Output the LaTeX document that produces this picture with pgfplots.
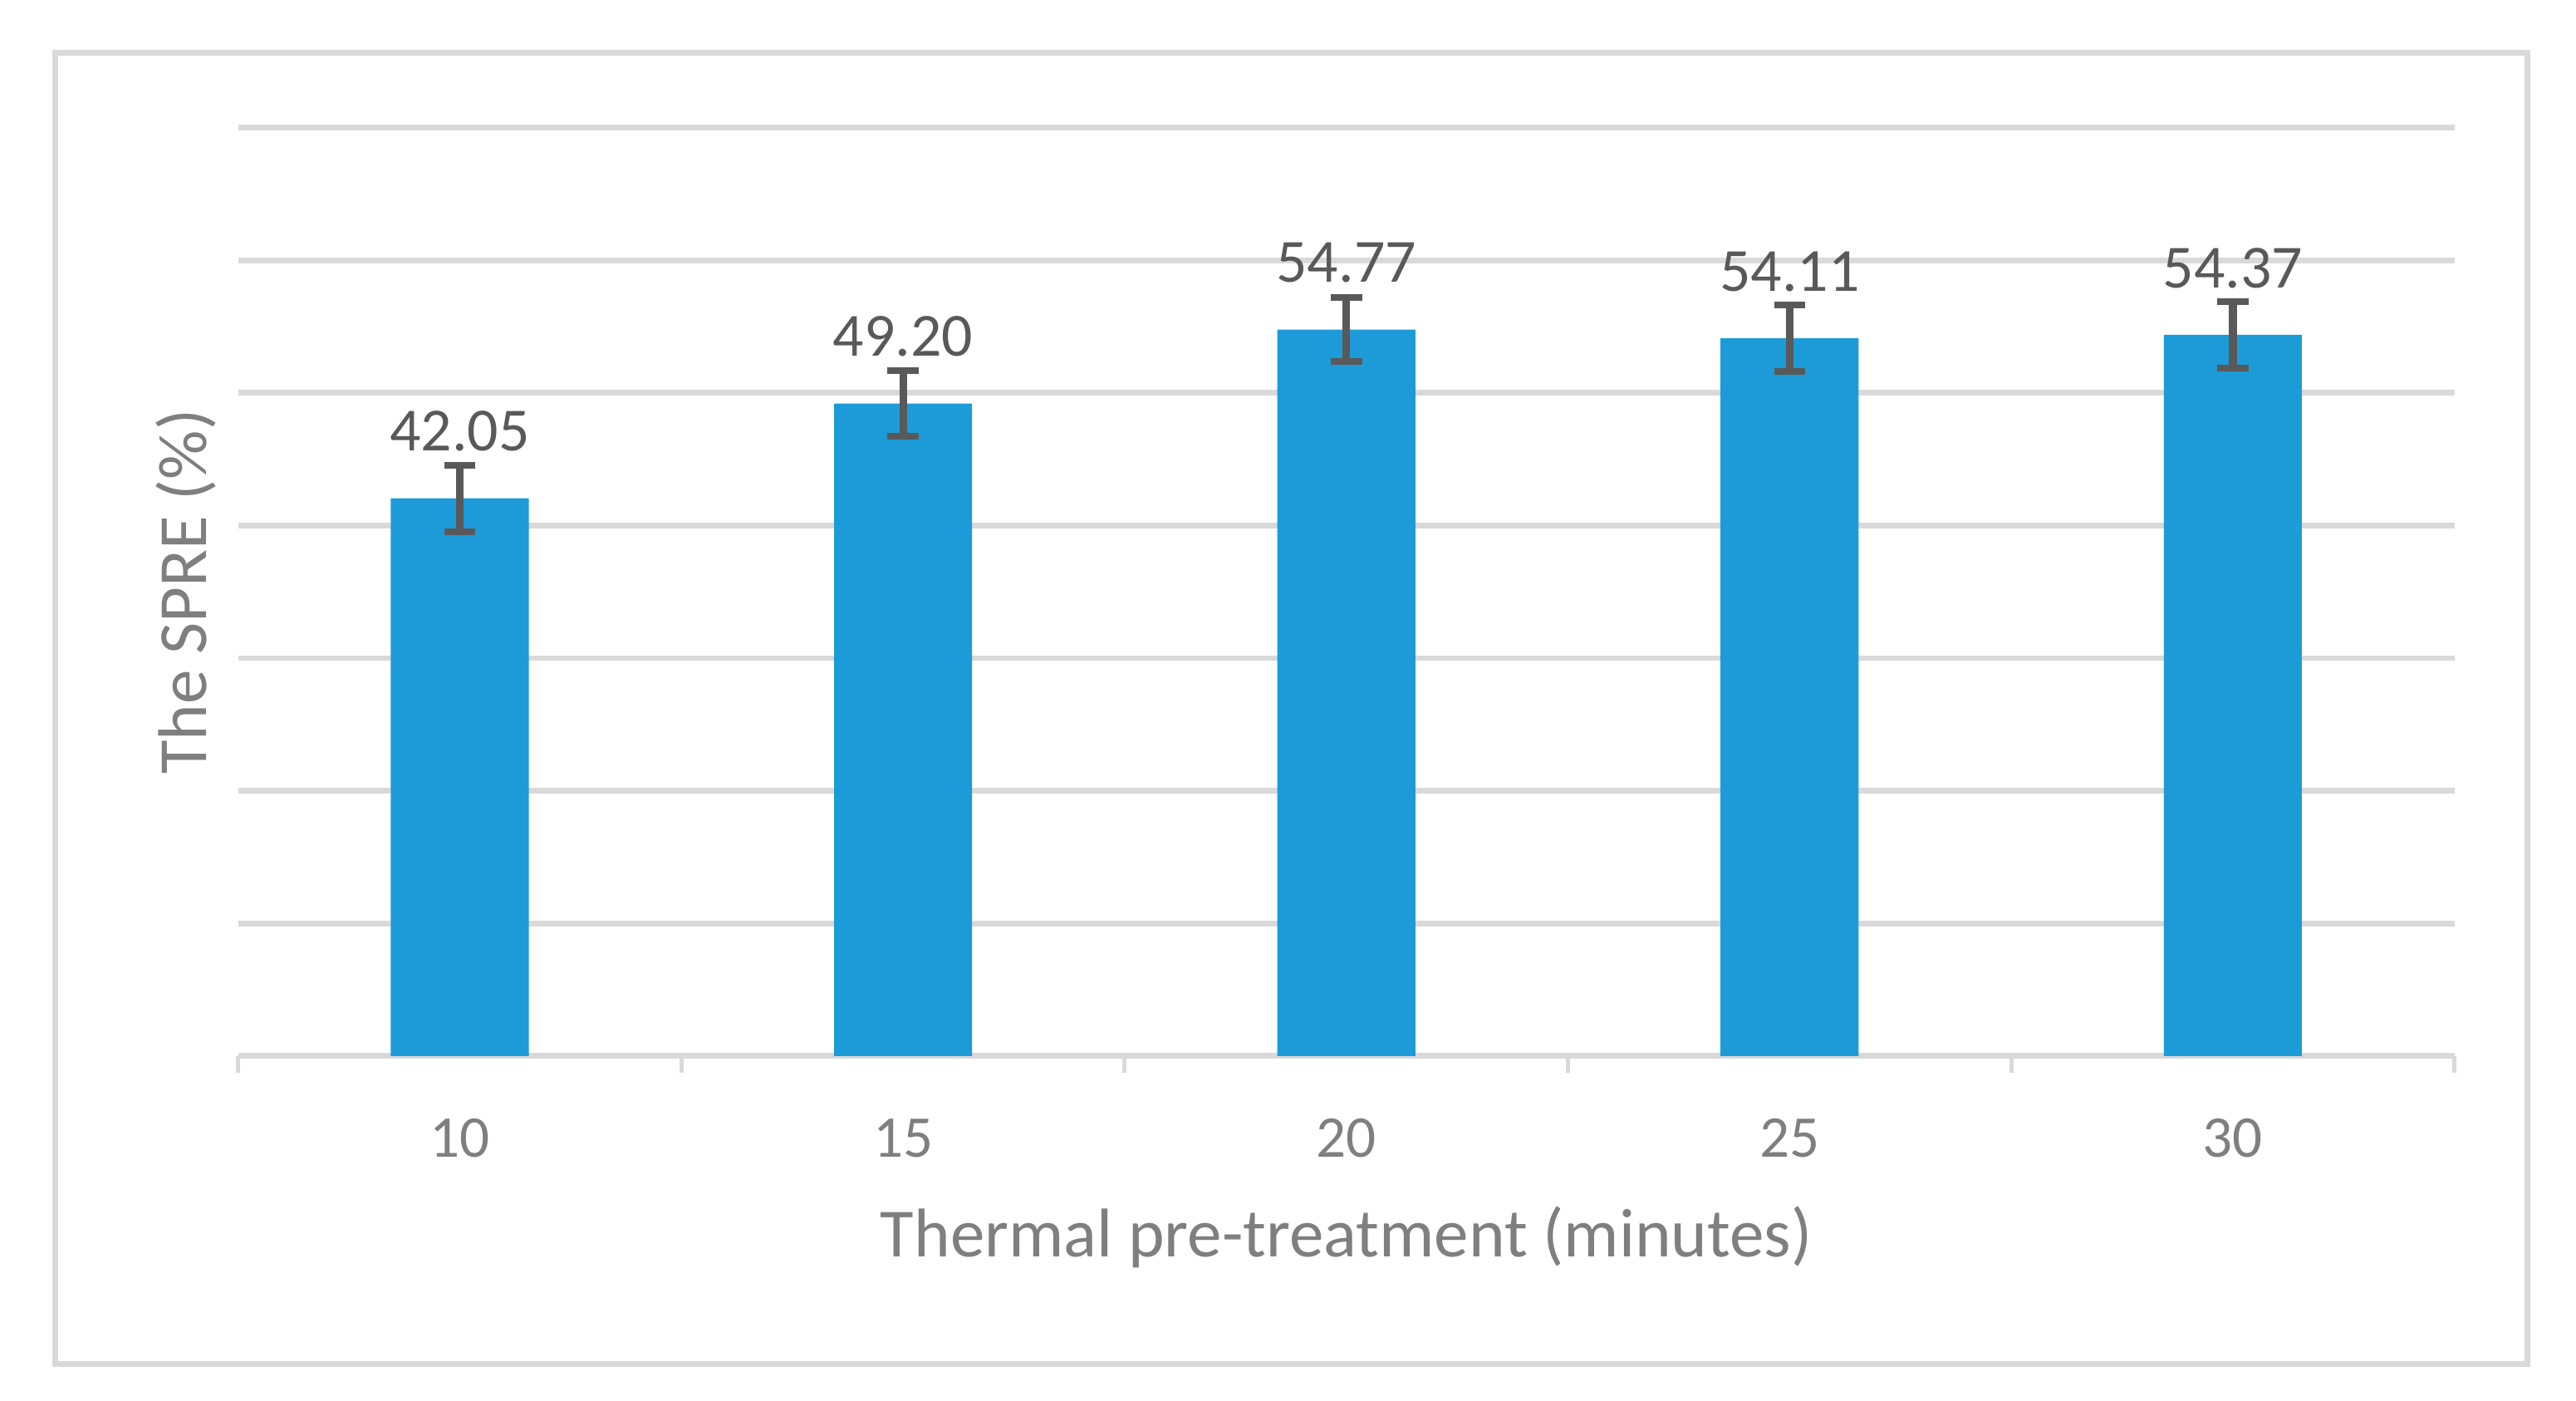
\documentclass[border=0pt]{standalone}
\usepackage{fontspec}
\setmainfont{Carlito}
\usepackage{pgfplots}
\pgfplotsset{compat=1.18}
\definecolor{barblue}{HTML}{1D9BD8}
\definecolor{gridgray}{HTML}{D9D9D9}
\definecolor{labgray}{HTML}{595959}
\definecolor{axgray}{HTML}{7F7F7F}
\pgfplotstableread{
x y e l
10 42.05 2.5 42.05
15 49.20 2.5 49.20
20 54.77 2.4 54.77
25 54.11 2.5 54.11
30 54.37 2.5 54.37
}\datatable
\begin{document}
\begin{tikzpicture}
\path[use as bounding box] (0pt,0pt) rectangle (470.4pt,255.6pt);
\draw[gridgray, line width=1pt] (10.05pt,6.6pt) rectangle (461.55pt,246pt);
\begin{axis}[
 at={(43.5pt,62.82pt)}, anchor=south west,
 scale only axis, width=404.7pt, height=169.5pt,
 xmin=7.5, xmax=32.5, ymin=0, ymax=70,
 axis x line*=bottom, axis y line*=left,
 y axis line style={draw=none},
 x axis line style={gridgray, line width=1.05pt, -},
 xtick={10,15,20,25,30}, major tick length=0pt,
 minor xtick={7.5,12.5,17.5,22.5,27.5,32.5}, minor tick length=3pt,
 tick align=outside,
 minor x tick style={gridgray, line width=0.75pt},
 ytick={0,10,...,70}, yticklabels={}, ytick style={draw=none},
 ymajorgrids, major grid style={gridgray, line width=1.05pt},
 /pgf/number format/assume math mode=true,
 xticklabel style={font=\fontsize{10.8}{13}\selectfont, color=axgray, anchor=base, yshift=-18.5pt},
 xlabel={Thermal pre-treatment (minutes)},
 xlabel style={at={(axis description cs:0.5,-0.1954)}, anchor=center, font=\fontsize{12.6}{15}\selectfont, color=axgray},
 ylabel={The SPRE (\%)},
 ylabel style={at={(axis description cs:-0.0237,0.5)}, anchor=center, font=\fontsize{12.6}{15}\selectfont, color=axgray},
 clip=false,
]
\addplot[ybar, bar width=1.557, fill=barblue, draw=none,
  point meta=explicit symbolic, nodes near coords,
  every node near coord/.append style={anchor=base, inner sep=0pt, yshift=8.6pt, font=\fontsize{11.2}{13}\selectfont, color=labgray},
  error bars/.cd, y dir=both, y explicit,
  error bar style={labgray, line width=1.4pt},
  error mark options={rotate=90, labgray, mark size=2.85pt, line width=1.2pt}]
  table[x=x, y=y, y error=e, meta=l] {\datatable};
\end{axis}
\end{tikzpicture}
\end{document}
